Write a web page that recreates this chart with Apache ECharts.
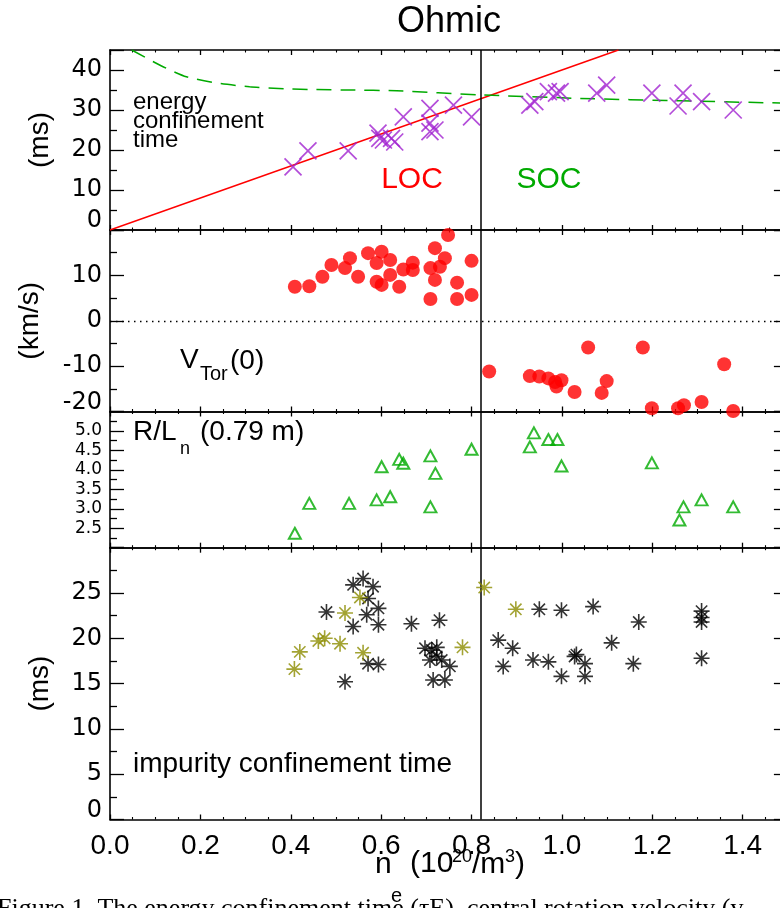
<!DOCTYPE html>
<html>
<head>
<meta charset="utf-8">
<script src="https://cdn.jsdelivr.net/npm/echarts@6/dist/echarts.min.js"></script>
<style>html,body{margin:0;padding:0;background:#fff}#c{width:780px;height:908px}</style>
</head>
<body>
<div id="c"></div>
<script>
// ---------------- data ----------------
const boundary = 0.82; // LOC / SOC transition density
const xTickLabels = ['0.0','0.2','0.4','0.6','0.8','1.0','1.2','1.4'];
const p1TickLabels = ['0','10','20','30','40'];
const p2TickLabels = ['-20','-10','0','10'];
const p3TickLabels = ['2.5','3.0','3.5','4.0','4.5','5.0'];
const p4TickLabels = ['0','5','10','15','20','25'];

// panel 1 : energy confinement time (ms)
const locLine = [[0,0],[1.125,45]];
const socCurve = [[0.048,45],[0.114,41.0],[0.169,38.3],[0.239,36.7],[0.309,35.8],[0.387,35.3],[0.456,35.1],[0.531,35.0],[0.634,34.8],[0.818,33.8],[1.040,32.9],[1.261,32.3],[1.5,31.7]];
const tauE = [[0.405,15.8],[0.438,19.8],[0.527,19.8],[0.593,24.2],[0.597,22.9],[0.605,22.5],[0.623,22.9],[0.630,22.0],[0.649,28.3],[0.708,30.4],[0.708,26.7],[0.708,24.6],[0.719,25.0],[0.760,31.2],[0.800,28.3],[0.929,31.2],[0.940,32.1],[0.970,34.6],[0.988,34.2],[0.996,34.6],[1.077,34.2],[1.099,36.2],[1.199,34.2],[1.257,31.0],[1.268,34.2],[1.309,32.1],[1.379,30.0]];

// panel 2 : central toroidal velocity (km/s)
const vTor = [[0.409,7.5],[0.441,7.6],[0.470,9.7],[0.490,12.3],[0.520,11.6],[0.531,13.8],[0.549,9.7],[0.571,14.9],[0.590,12.7],[0.601,15.2],[0.590,8.6],[0.601,7.9],[0.620,13.4],[0.620,10.1],[0.640,7.5],[0.649,11.3],[0.670,12.8],[0.670,11.2],[0.709,4.8],[0.709,11.6],[0.719,16.0],[0.719,9.0],[0.730,11.9],[0.741,13.8],[0.748,18.9],[0.768,8.4],[0.768,4.8],[0.800,13.2],[0.800,5.7],
  [0.839,-11.2],[0.929,-12.2],[0.950,-12.3],[0.970,-12.7],[0.985,-13.5],[0.988,-14.5],[0.999,-13.1],[1.028,-15.7],[1.058,-5.9],[1.088,-15.9],[1.099,-13.3],[1.179,-5.9],[1.199,-19.3],[1.257,-19.3],[1.270,-18.6],[1.309,-17.9],[1.359,-9.6],[1.379,-19.9]];

// panel 3 : R/Ln
const rLn = [[0.409,2.37],[0.441,3.14],[0.529,3.14],[0.590,3.23],[0.601,4.08],[0.620,3.31],[0.640,4.27],[0.649,4.17],[0.709,4.36],[0.720,3.91],[0.709,3.05],[0.800,4.53],[0.929,4.59],[0.938,4.95],[0.970,4.78],[0.990,4.78],[0.999,4.10],[1.199,4.18],[1.260,2.71],[1.269,3.05],[1.309,3.23],[1.379,3.05]];

// panel 4 : impurity confinement time (ms)
const tauImpOlive = [[0.408,16.6],[0.420,18.5],[0.461,19.7],[0.475,20.0],[0.509,19.4],[0.520,22.8],[0.553,24.5],[0.560,18.4],[0.780,19.0],[0.828,25.6],[0.898,23.2]];
const tauImpBlack = [[0.479,22.9],[0.520,15.2],[0.538,21.3],[0.538,25.9],[0.560,26.6],[0.582,25.7],[0.571,24.4],[0.568,22.6],[0.594,23.3],[0.594,21.5],[0.571,17.2],[0.594,17.1],[0.667,21.6],[0.729,22.0],[0.697,18.9],[0.712,18.7],[0.723,19.0],[0.708,17.6],[0.723,18.0],[0.734,17.6],[0.752,16.9],[0.715,15.4],[0.741,15.4],[0.859,19.8],[0.891,18.9],[0.870,16.9],[0.950,23.2],[0.999,23.1],[1.069,23.5],[0.936,17.6],[0.970,17.4],[0.999,15.8],[1.028,18.0],[1.032,18.2],[1.051,17.2],[1.051,15.8],[1.110,19.5],[1.170,21.8],[1.158,17.2],[1.309,23.0],[1.309,22.3],[1.309,21.8],[1.309,17.8]];

// ---------------- styling helpers ----------------
const SANS = '"Liberation Sans", Arial, Helvetica, sans-serif';
const TICKF = '"DejaVu Sans", sans-serif';
const RED = '#ff0000', GREEN = '#00aa00', PURPLE = '#a020d0', OLIVE = '#8c8c00';
const X_PATH = 'path://M-10,-10L10,10M-10,10L10,-10';
const STAR_PATH = 'path://M0,-10L0,10M-10,0L10,0M-7.07,-7.07L7.07,7.07M-7.07,7.07L7.07,-7.07';

const panels = [
  {top:50,    height:180,   min:0,  max:45,  interval:10,  labels:p1TickLabels, digits:0, raised:'0',   fs:24, name:'(ms)',   gap:56},
  {top:230,   height:181.5, min:-20,max:20,  interval:10,  labels:p2TickLabels, digits:0, raised:'-20', fs:24, name:'(km/s)', gap:66},
  {top:411.5, height:136.2, min:2,  max:5.5, interval:0.5, labels:p3TickLabels, digits:1, raised:null,  fs:17, name:'',       gap:0},
  {top:547.7, height:271.8, min:0,  max:30,  interval:5,   labels:p4TickLabels, digits:0, raised:'0',   fs:24, name:'(ms)',   gap:56}
];

const grids = [], xAxes = [], yAxes = [];
panels.forEach((p, i) => {
  grids.push({left:110, right:-7.9, top:p.top, height:p.height, containLabel:false, outerBoundsMode:'none', show:false});
  ['bottom','top'].forEach(pos => {
    const isLabelled = (pos === 'bottom' && i === 3);
    xAxes.push({
      type:'value', gridIndex:i, position:pos, min:0, max:1.5, interval:0.2,
      axisLine:{show:true, onZero:false, lineStyle:{color:'#000', width:1.6}},
      axisTick:{show:true, inside:true, length:5, lineStyle:{color:'#000', width:1.3}},
      minorTick:{show:true, splitNumber:4, length:2.5, lineStyle:{color:'#000', width:1.1}},
      splitLine:{show:false}, minorSplitLine:{show:false},
      axisLabel:{show:isLabelled, margin:13, fontSize:28, fontFamily:SANS, color:'#000',
        formatter:(v) => { const s = v.toFixed(1); return xTickLabels.includes(s) ? s : ''; }}
    });
  });
  ['left','right'].forEach(pos => {
    const isLeft = pos === 'left';
    yAxes.push({
      type:'value', gridIndex:i, position:pos, min:p.min, max:p.max, interval:p.interval,
      name: isLeft ? p.name : '', nameLocation:'middle', nameRotate:90, nameGap:p.gap,
      nameTextStyle:{fontSize:28, fontFamily:SANS, color:'#000'},
      axisLine:{show:true, onZero:false, lineStyle:{color:'#000', width:1.6}},
      axisTick:{show:true, inside:true, length:14, lineStyle:{color:'#000', width:1.3}},
      minorTick:{show:true, splitNumber:2, length:7, lineStyle:{color:'#000', width:1.3}},
      splitLine:{show:false}, minorSplitLine:{show:false},
      axisLabel:{show:isLeft, margin:8, fontSize:p.fs, fontFamily:TICKF, color:'#000', lineHeight:18,
        formatter:(v) => { const s = Math.abs(v) < 1e-9 ? (0).toFixed(p.digits) : v.toFixed(p.digits);
          if (!p.labels.includes(s)) return '';
          return s === p.raised ? s + '\n ' : s; }}
    });
  });
});

const bLine = {xAxis:boundary, lineStyle:{type:'solid', color:'#000', width:1.5}};
function marks(extra) {
  return {silent:true, symbol:'none', animation:false, label:{show:false}, emphasis:{disabled:true},
          data:[bLine].concat(extra || [])};
}

const series = [
  {type:'line', xAxisIndex:0, yAxisIndex:0, data:locLine, showSymbol:false, symbol:'none',
   lineStyle:{color:RED, width:1.4}, z:3, markLine:marks()},
  {type:'line', xAxisIndex:0, yAxisIndex:0, data:socCurve, showSymbol:false, symbol:'none', smooth:0.2,
   lineStyle:{color:GREEN, width:1.5, type:[15,9]}, z:3},
  {type:'scatter', xAxisIndex:0, yAxisIndex:0, data:tauE, symbol:X_PATH, symbolSize:17,
   itemStyle:{color:'none', borderColor:PURPLE, borderWidth:1.7}, z:4},

  {type:'scatter', xAxisIndex:2, yAxisIndex:2, data:vTor, symbol:'circle', symbolSize:14,
   itemStyle:{color:RED}, z:4,
   markLine:marks([{yAxis:0, lineStyle:{type:[1.5,4.5], color:'#000', width:1.3}}])},

  {type:'scatter', xAxisIndex:4, yAxisIndex:4, data:rLn, symbol:'triangle', symbolSize:[12,11],
   itemStyle:{color:'rgba(0,0,0,0)', borderColor:GREEN, borderWidth:2}, z:4, markLine:marks()},

  {type:'scatter', xAxisIndex:6, yAxisIndex:6, data:tauImpBlack, symbol:STAR_PATH, symbolSize:16,
   itemStyle:{color:'none', borderColor:'#000', borderWidth:1.6}, z:4, markLine:marks()},
  {type:'scatter', xAxisIndex:6, yAxisIndex:6, data:tauImpOlive, symbol:STAR_PATH, symbolSize:16,
   itemStyle:{color:'none', borderColor:OLIVE, borderWidth:1.6}, z:5}
];

function txt(text, x, y, size, opts) {
  return {type:'text', x:x, y:y, silent:true, z:100,
    style:Object.assign({text:text, fontSize:size, fontFamily:SANS, fill:'#000', align:'left', verticalAlign:'middle'}, opts || {})};
}

const graphics = [
  txt('Ohmic', 449, 22, 36, {align:'center'}),
  txt('energy', 133, 102, 24),
  txt('confinement', 133, 121, 24),
  txt('time', 133, 140, 24),
  txt('LOC', 412, 180, 30, {align:'center', fill:RED}),
  txt('SOC', 549, 180, 30, {align:'center', fill:GREEN}),
  txt('V', 180, 360, 28),
  txt('Tor', 200, 374, 20),
  txt('(0)', 230, 361, 28),
  txt('R/L', 133, 432, 28),
  txt('n', 180, 449, 18),
  txt('(0.79 m)', 200, 432, 28),
  txt('impurity confinement time', 133, 764, 28),
  txt('n', 375, 865, 30),
  txt('e', 391, 896, 20),
  txt('(10', 410, 864, 30),
  txt('20', 452, 857, 18),
  txt('/m', 472, 865, 30),
  txt('3', 505, 857, 18),
  txt(')', 515, 865, 30),
  txt('Figure 1. The energy confinement time (\u03c4E), central rotation velocity (v', -3, 909, 26,
      {fontFamily:'"Liberation Serif", "Times New Roman", serif'})
];

const chart = echarts.init(document.getElementById('c'), null, {renderer:'canvas'});
chart.setOption({
  backgroundColor:'#fff',
  animation:false,
  grid:grids,
  xAxis:xAxes,
  yAxis:yAxes,
  series:series,
  graphic:graphics
});
</script>
</body>
</html>
